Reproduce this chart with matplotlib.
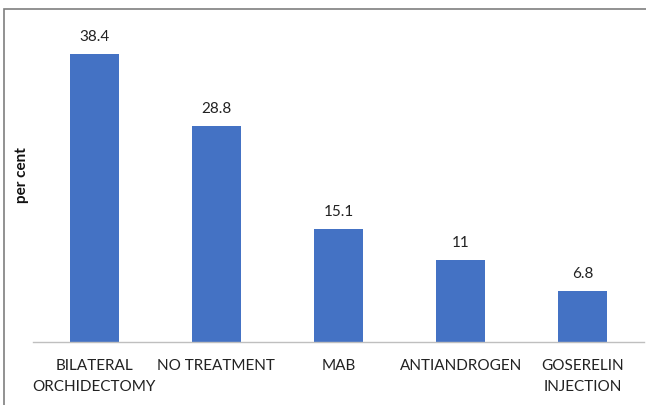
import matplotlib.pyplot as plt
from matplotlib.patches import Rectangle

categories = ["BILATERAL\nORCHIDECTOMY", "NO TREATMENT", "MAB", "ANTIANDROGEN", "GOSERELIN\nINJECTION"]
values = [38.4, 28.8, 15.1, 11, 6.8]
value_labels = ["38.4", "28.8", "15.1", "11", "6.8"]

plt.rcParams['font.family'] = ['Lato', 'DejaVu Sans']

W, H = 646, 405
fig = plt.figure(figsize=(W / 100, H / 100), dpi=100)

# axes placed in pixel terms: baseline at y=342, x from 33 to 644
left, right, bottom, top = 33, 644, 342, 20
ax = fig.add_axes([left / W, 1 - bottom / H, (right - left) / W, (bottom - top) / H])

x = range(len(categories))
ax.bar(x, values, width=0.4, color="#4472C4")
for xi, v, lab in zip(x, values, value_labels):
    ax.text(xi, v + 1.3, lab, ha="center", va="bottom", fontsize=11, color="#222222")

ax.set_xlim(-0.5, len(categories) - 0.5)
ax.set_ylim(0, (bottom - top) / 7.5)
ax.set_xticks(list(x))
ax.set_xticklabels(categories, fontsize=11, color="#222222", linespacing=1.65)
ax.tick_params(axis="x", length=0, pad=12)
ax.set_yticks([])
for s in ["top", "right", "left"]:
    ax.spines[s].set_visible(False)
ax.spines["bottom"].set_color("#BFBFBF")
ax.spines["bottom"].set_linewidth(1)

fig.text(22 / W, 1 - 175 / H, "per cent", rotation=90, ha="center", va="center",
         fontsize=11, fontweight="bold", color="#111111")

# chart border (cropped at right and bottom)
fig.patches.append(Rectangle((4 / W, -0.1), 1.2, 1 - 9 / H + 0.1, transform=fig.transFigure,
                             fill=False, edgecolor="#7F7F7F", linewidth=1.2))

fig.savefig("out.png", dpi=100)
